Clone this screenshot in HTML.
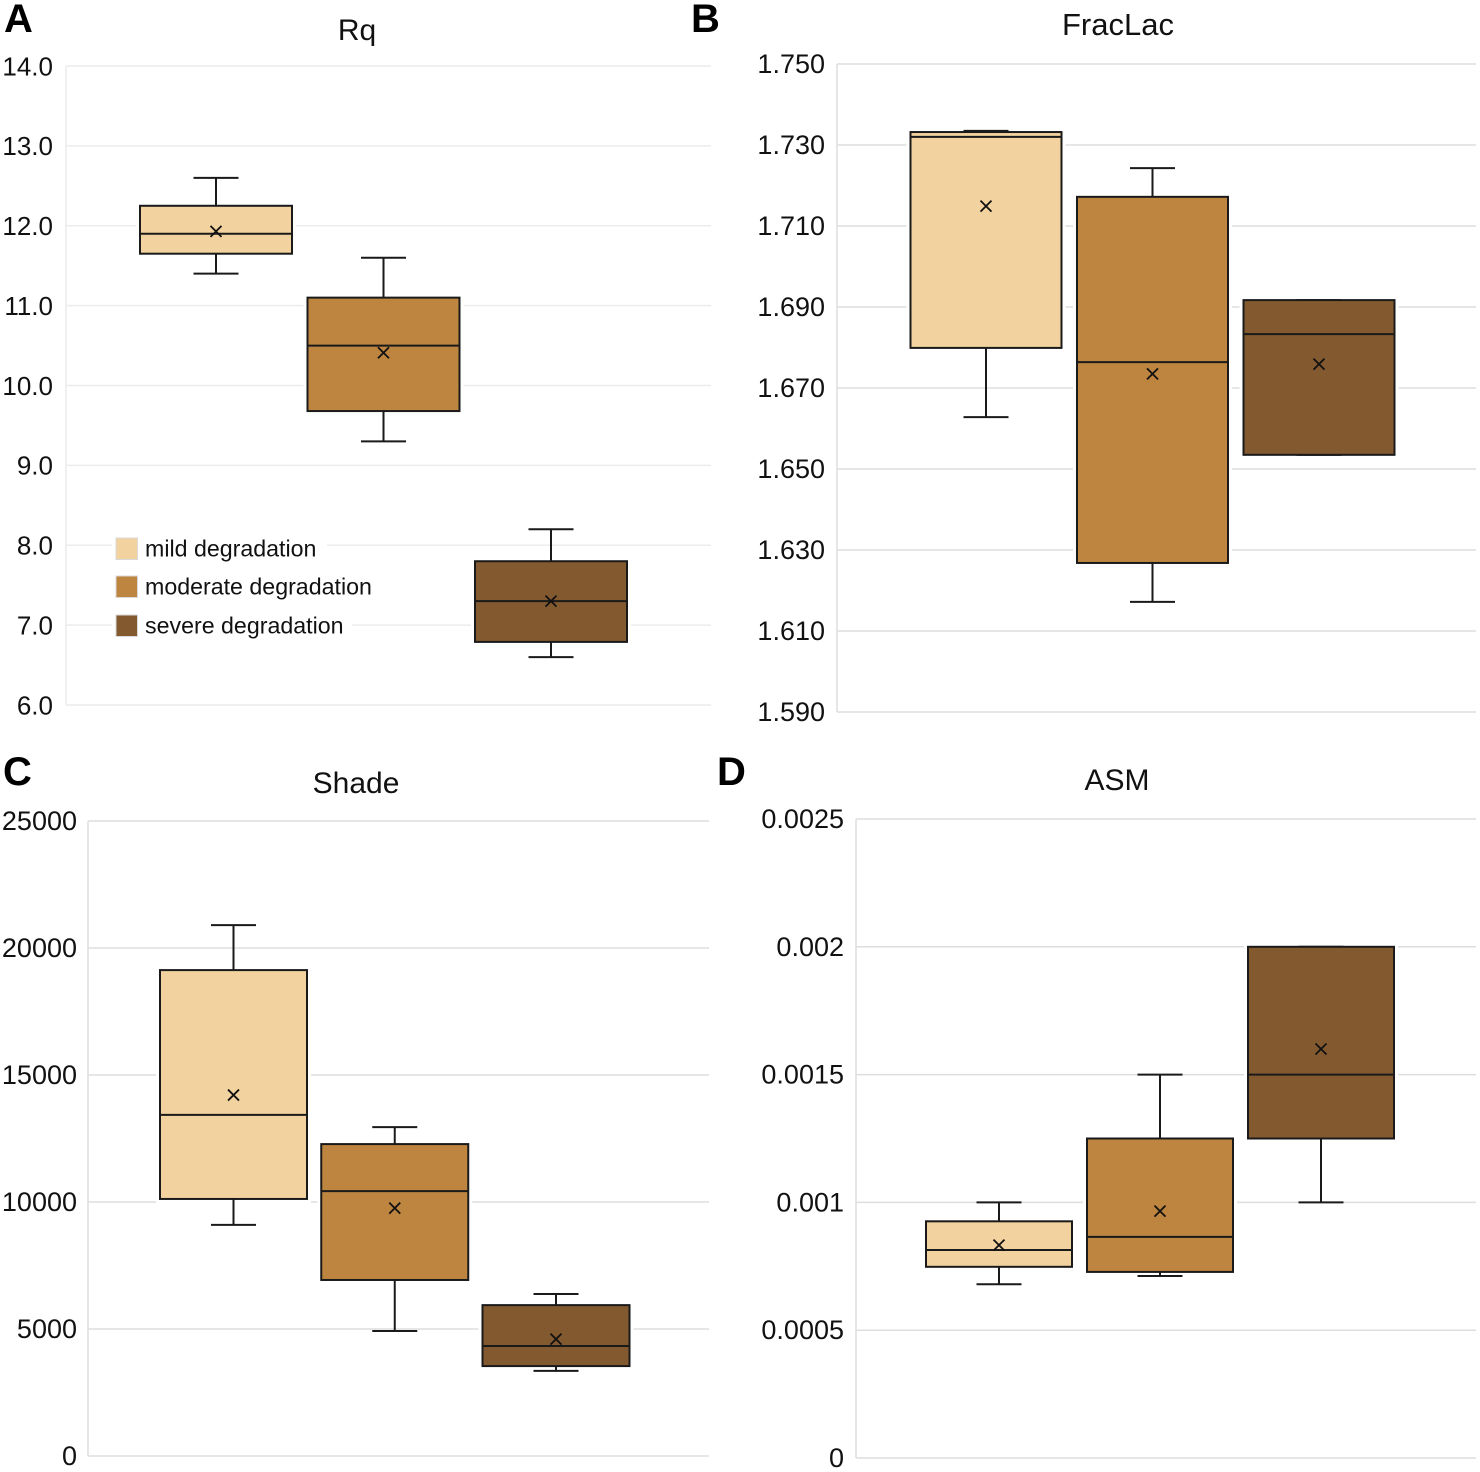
<!DOCTYPE html>
<html lang="en">
<head>
<meta charset="utf-8">
<title>Degradation box plots</title>
<style>
html,body{margin:0;padding:0;background:#fff;}
svg{display:block;font-family:"Liberation Sans",Arial,sans-serif;}
</style>
</head>
<body>
<svg id="chart" xmlns="http://www.w3.org/2000/svg" width="1480" height="1472" viewBox="0 0 1480 1472"></svg>
<script>
const categories = ['mild degradation', 'moderate degradation', 'severe degradation'];

const rqTicks = ['6.0', '7.0', '8.0', '9.0', '10.0', '11.0', '12.0', '13.0', '14.0'];
const rqHigh = [12.6, 11.6, 8.2];
const rqQ3 = [12.25, 11.1, 7.8];
const rqMedian = [11.9, 10.5, 7.3];
const rqQ1 = [11.65, 9.68, 6.79];
const rqLow = [11.4, 9.3, 6.6];
const rqMean = [11.93, 10.41, 7.3];

const fracTicks = ['1.590', '1.610', '1.630', '1.650', '1.670', '1.690', '1.710', '1.730', '1.750'];
const fracHigh = [1.7335, 1.7243, 1.6917];
const fracQ3 = [1.7332, 1.7172, 1.6917];
const fracMedian = [1.732, 1.6764, 1.6833];
const fracQ1 = [1.6799, 1.6268, 1.6535];
const fracLow = [1.6628, 1.6172, 1.6535];
const fracMean = [1.7149, 1.6735, 1.6759];

const shadeTicks = ['0', '5000', '10000', '15000', '20000', '25000'];
const shadeHigh = [20900, 12950, 6380];
const shadeQ3 = [19130, 12280, 5940];
const shadeMedian = [13430, 10430, 4330];
const shadeQ1 = [10120, 6930, 3540];
const shadeLow = [9100, 4920, 3350];
const shadeMean = [14210, 9760, 4600];

const asmTicks = ['0', '0.0005', '0.001', '0.0015', '0.002', '0.0025'];
const asmHigh = [0.001, 0.0015, 0.002];
const asmQ3 = [0.000926, 0.00125, 0.002];
const asmMedian = [0.000814, 0.000865, 0.0015];
const asmQ1 = [0.000748, 0.000728, 0.00125];
const asmLow = [0.00068, 0.000712, 0.001];
const asmMean = [0.000833, 0.000966, 0.0016];

const fills = ['#F2D29E', '#BD8540', '#835A30'];
const svg = document.getElementById('chart');
const NS = 'http://www.w3.org/2000/svg';

function make(tag, attrs, parent) {
  const el = document.createElementNS(NS, tag);
  for (const k in attrs) el.setAttribute(k, attrs[k]);
  parent.appendChild(el);
  return el;
}

function drawPanel(p) {
  const g = make('g', {}, svg);
  
  

  const ticks = p.ticks.map(Number);
  const min = ticks[0];
  const max = ticks[ticks.length - 1];
  const y = v => p.yBottom - (v - min) / (max - min) * (p.yBottom - p.yTop);
  const x = i => p.firstCenter + i * p.step;

  const letter = make('text', {x: p.letterX, y: p.letterY, 'font-size': 40, 'font-weight': 'bold', fill: '#000'}, g);
  
  
  letter.textContent = p.letter;

  const title = make('text', {x: p.titleX, y: p.titleY, 'font-size': p.titleSize, 'text-anchor': 'middle', fill: '#111'}, g);
  
  
  title.textContent = p.title;

  p.ticks.forEach((label, i) => {
    const py = y(ticks[i]);
    const grid = make('line', {x1: p.left, x2: p.right, y1: py, y2: py, stroke: p.gridColor, 'stroke-width': 1.5}, g);
    
    
    const tick = make('text', {x: p.labelX, y: py + p.tickSize * 0.36 - p.tickLift, 'font-size': p.tickSize, 'text-anchor': 'end', fill: '#111'}, g);
    
    
    tick.textContent = label;
  });

  const axis = make('line', {x1: p.left, x2: p.left, y1: p.yTop, y2: p.yBottom, stroke: p.gridColor, 'stroke-width': 1.5}, g);
  
  

  categories.forEach((name, i) => {
    const cx = x(i);
    const bw = p.boxWidth;
    const series = make('g', {}, g);
    
    

    const halo = make('rect', {x: cx - bw / 2, y: y(p.q3[i]), width: bw, height: y(p.q1[i]) - y(p.q3[i]), fill: '#fff', stroke: '#fff', 'stroke-width': 8}, series);
    
    

    const upper = make('line', {x1: cx, x2: cx, y1: y(p.high[i]), y2: y(p.q3[i]), stroke: '#1a1a1a', 'stroke-width': 2}, series);
    
    

    const lower = make('line', {x1: cx, x2: cx, y1: y(p.q1[i]), y2: y(p.low[i]), stroke: '#1a1a1a', 'stroke-width': 2}, series);
    
    

    const capHigh = make('line', {x1: cx - 22.5, x2: cx + 22.5, y1: y(p.high[i]), y2: y(p.high[i]), stroke: '#1a1a1a', 'stroke-width': 2}, series);
    
    

    const capLow = make('line', {x1: cx - 22.5, x2: cx + 22.5, y1: y(p.low[i]), y2: y(p.low[i]), stroke: '#1a1a1a', 'stroke-width': 2}, series);
    
    

    const box = make('rect', {x: cx - bw / 2, y: y(p.q3[i]), width: bw, height: y(p.q1[i]) - y(p.q3[i]), fill: fills[i], stroke: '#1a1a1a', 'stroke-width': 2}, series);
    
    

    const median = make('line', {x1: cx - bw / 2, x2: cx + bw / 2, y1: y(p.median[i]), y2: y(p.median[i]), stroke: '#1a1a1a', 'stroke-width': 2}, series);
    
    

    const my = y(p.mean[i]);
    const mean = make('path', {d: 'M' + (cx - 5.5) + ' ' + (my - 5.5) + 'L' + (cx + 5.5) + ' ' + (my + 5.5) + 'M' + (cx - 5.5) + ' ' + (my + 5.5) + 'L' + (cx + 5.5) + ' ' + (my - 5.5), stroke: '#111', 'stroke-width': 1.8, fill: 'none'}, series);
    
    
  });
}

drawPanel({key: 'rq', letter: 'A', letterX: 4, letterY: 32, title: 'Rq', titleX: 357, titleY: 40, titleSize: 30,
  ticks: rqTicks, high: rqHigh, q3: rqQ3, median: rqMedian, q1: rqQ1, low: rqLow, mean: rqMean,
  left: 66, right: 711, yTop: 66, yBottom: 705, labelX: 53, tickSize: 26, tickLift: 0, gridColor: '#ececec',
  firstCenter: 216, step: 167.5, boxWidth: 152});

drawPanel({key: 'fraclac', letter: 'B', letterX: 691, letterY: 32, title: 'FracLac', titleX: 1118, titleY: 35, titleSize: 31,
  ticks: fracTicks, high: fracHigh, q3: fracQ3, median: fracMedian, q1: fracQ1, low: fracLow, mean: fracMean,
  left: 837, right: 1476, yTop: 64, yBottom: 712, labelX: 825, tickSize: 27, tickLift: 0.7, gridColor: '#dedede',
  firstCenter: 986, step: 166.5, boxWidth: 151});

drawPanel({key: 'shade', letter: 'C', letterX: 3, letterY: 785, title: 'Shade', titleX: 356, titleY: 793, titleSize: 30,
  ticks: shadeTicks, high: shadeHigh, q3: shadeQ3, median: shadeMedian, q1: shadeQ1, low: shadeLow, mean: shadeMean,
  left: 88, right: 709, yTop: 821, yBottom: 1456, labelX: 77, tickSize: 27, tickLift: 0.7, gridColor: '#dedede',
  firstCenter: 233.5, step: 161.25, boxWidth: 147});

drawPanel({key: 'asm', letter: 'D', letterX: 717, letterY: 785, title: 'ASM', titleX: 1117, titleY: 790, titleSize: 30,
  ticks: asmTicks, high: asmHigh, q3: asmQ3, median: asmMedian, q1: asmQ1, low: asmLow, mean: asmMean,
  left: 856, right: 1476, yTop: 819, yBottom: 1458, labelX: 844, tickSize: 27, tickLift: 0.7, gridColor: '#dedede',
  firstCenter: 999, step: 161, boxWidth: 146});

const legend = make('g', {}, svg);


const legendRowY = [549, 587, 626];
const legendBackWidth = [215, 270, 240];
categories.forEach((name, i) => {
  const back = make('rect', {x: 112, y: legendRowY[i] - 16, width: legendBackWidth[i], height: 32, fill: '#fff'}, legend);
  
  
  const swatch = make('rect', {x: 116, y: legendRowY[i] - 11, width: 21.5, height: 21.5, fill: fills[i], stroke: '#d9d9d9', 'stroke-width': 1}, legend);
  
  
  const label = make('text', {x: 145, y: legendRowY[i] + 7.5, 'font-size': 23.2, fill: '#111'}, legend);
  
  
  label.textContent = name;
});
</script>
</body>
</html>
